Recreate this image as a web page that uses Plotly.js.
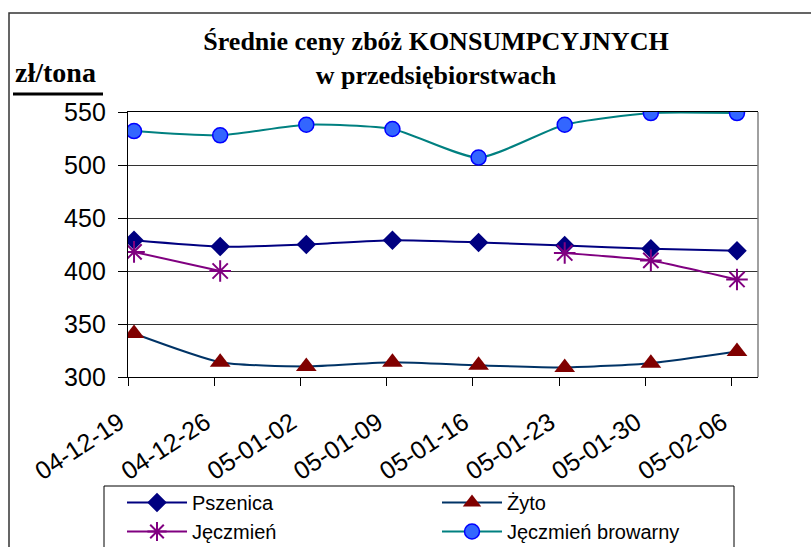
<!DOCTYPE html>
<html>
<head>
<meta charset="utf-8">
<script src="https://cdn.plot.ly/plotly-3.0.1.min.js"></script>
<style>
  html, body { margin: 0; padding: 0; background: #fff; overflow: hidden; }
  #chart { width: 811px; height: 547px; }
</style>
</head>
<body>
<div id="chart"></div>
<script>
// ---- data ----
const categories = ["04-12-19", "04-12-26", "05-01-02", "05-01-09", "05-01-16", "05-01-23", "05-01-30", "05-02-06"];
const pszenica = [429, 423, 425, 429, 427, 424, 421, 419];
const zyto = [341, 314, 310, 314, 311, 309, 313, 324];
const jeczmien = [418, 400, null, null, null, 417, 410, 392];
const jeczmienBrowarny = [532, 528, 538, 534, 507, 538, 549, 549];
const seriesNames = ["Pszenica", "Żyto", "Jęczmień", "Jęczmień browarny"];
const yTicks = [300, 350, 400, 450, 500, 550];
const titleLines = ["Średnie ceny zbóż KONSUMPCYJNYCH", "w przedsiębiorstwach"];
const yUnit = "zł/tona";

const xIdx = categories.map((c, i) => i);
const tickPos = xIdx.map(i => i - 0.065);

const sans = "Liberation Sans, Arial, sans-serif";
const serif = "Liberation Serif, Times New Roman, serif";

const traces = [
  {
    x: xIdx, y: pszenica, name: seriesNames[0], type: "scatter", mode: "lines+markers",
    line: { color: "#000080", width: 2, shape: "spline", smoothing: 0.6 },
    marker: { symbol: "diamond", size: 15, color: "#000080" }
  },
  {
    x: xIdx, y: zyto, name: seriesNames[1], type: "scatter", mode: "lines+markers",
    line: { color: "#003366", width: 2, shape: "spline", smoothing: 0.6 },
    marker: { symbol: "triangle-up", size: 18, color: "#800000" }
  },
  {
    x: xIdx, y: jeczmien, name: seriesNames[2], type: "scatter", mode: "lines+markers",
    connectgaps: false,
    line: { color: "#800080", width: 2, shape: "spline", smoothing: 0.4 },
    marker: { symbol: "asterisk-open", size: 18, color: "#800080", line: { color: "#800080", width: 2 } }
  },
  {
    x: xIdx, y: jeczmienBrowarny, name: seriesNames[3], type: "scatter", mode: "lines+markers",
    line: { color: "#008080", width: 2, shape: "spline", smoothing: 0.6 },
    marker: { symbol: "circle", size: 15, color: "#3366FF", line: { color: "#0000FF", width: 1.5 } }
  }
];

const L = 128, R = 758, T = 112, B = 377;
const pw = R - L, ph = B - T;
const px = v => (v - L) / pw;
const py = v => (B - v) / ph;

const layout = {
  width: 811, height: 547,
  margin: { l: L, r: 811 - R, t: T, b: 547 - B, autoexpand: false },
  paper_bgcolor: "#ffffff",
  plot_bgcolor: "#ffffff",
  showlegend: true,
  title: {
    text: "<b>" + titleLines.join("<br>") + "</b>",
    font: { family: serif, size: 26, color: "#000" },
    xref: "container", x: 436 / 811, xanchor: "center",
    yref: "container", y: 1 - 50 / 547, yanchor: "top"
  },
  xaxis: {
    type: "linear",
    range: [-0.07, 7.244],
    tickmode: "array", tickvals: tickPos, ticktext: categories,
    tickangle: -33,
    ticks: "outside", ticklen: 8, tickcolor: "#000", tickwidth: 1,
    tickfont: { family: sans, size: 25, color: "#000" },
    ticklabelstandoff: 12,
    ticklabelshift: -9,
    showgrid: false, zeroline: false,
    showline: true, linecolor: "#000", linewidth: 1.2, mirror: true
  },
  yaxis: {
    range: [300, 550],
    tickmode: "array", tickvals: yTicks,
    ticks: "outside", ticklen: 9, tickcolor: "#000", tickwidth: 1,
    tickfont: { family: sans, size: 25, color: "#000" },
    ticklabelstandoff: 7,
    showgrid: true, gridcolor: "#333333", gridwidth: 1,
    zeroline: false,
    showline: true, linecolor: "#000", linewidth: 1.2
  },
  legend: {
    orientation: "h",
    x: px(122), xanchor: "left",
    y: py(483), yanchor: "top",
    borderwidth: 0,
    bgcolor: "rgba(0,0,0,0)",
    font: { family: sans, size: 20, color: "#000" },
    entrywidth: 240, entrywidthmode: "pixels",
    itemwidth: 60,
    tracegroupgap: 0
  },
  annotations: [
    {
      text: "<b>" + yUnit + "</b>",
      xref: "paper", yref: "paper",
      x: px(13), xanchor: "left",
      y: py(90), yanchor: "bottom",
      showarrow: false,
      font: { family: serif, size: 28, color: "#000" }
    }
  ],
  shapes: [
    { type: "line", xref: "paper", yref: "paper", x0: px(13), x1: px(103), y0: py(94), y1: py(94),
      line: { color: "#000", width: 3 } },
    { type: "line", xref: "paper", yref: "paper", x0: 1, x1: 1, y0: 0, y1: 1,
      line: { color: "#808080", width: 1.5 } },
    { type: "rect", xref: "paper", yref: "paper", x0: px(9), x1: px(900), y0: py(13), y1: py(700),
      line: { color: "#333", width: 1.5 }, fillcolor: "rgba(0,0,0,0)", layer: "below" },
    { type: "rect", xref: "paper", yref: "paper", x0: px(104), x1: px(734), y0: py(486), y1: py(600),
      line: { color: "#000", width: 1 }, fillcolor: "rgba(0,0,0,0)", layer: "below" }
  ]
};

Plotly.newPlot("chart", traces, layout, { displayModeBar: false, staticPlot: true });
</script>
</body>
</html>
